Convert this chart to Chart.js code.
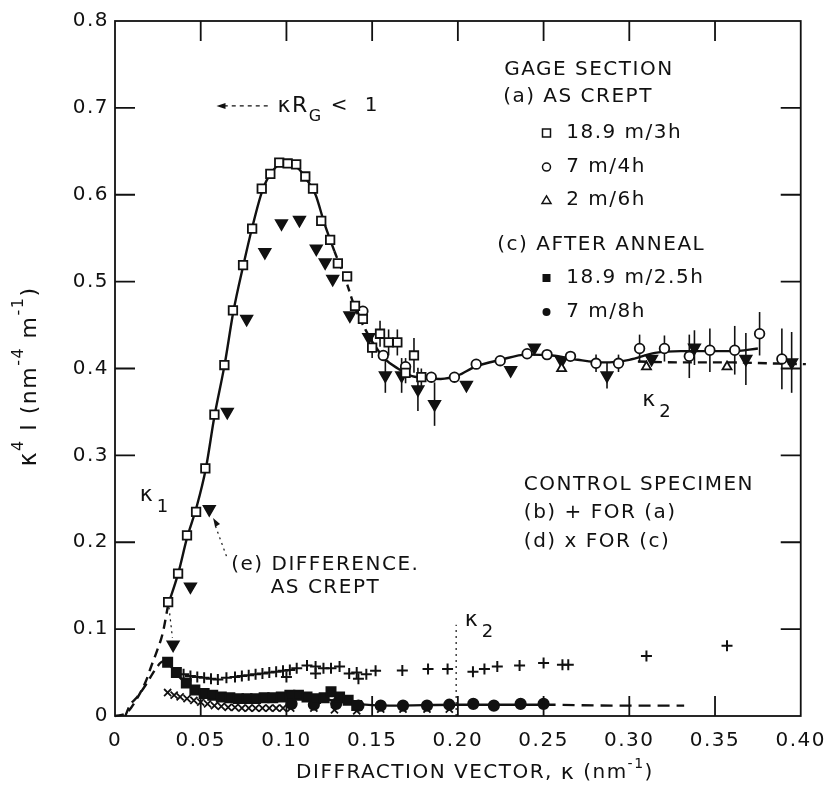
<!DOCTYPE html>
<html>
<head>
<meta charset="utf-8">
<title>SANS intensity vs diffraction vector</title>
<script src="https://cdn.jsdelivr.net/npm/chart.js@4.4.1/dist/chart.umd.min.js"></script>
<style>
  html, body { margin: 0; padding: 0; background: #fff; }
</style>
</head>
<body>
<canvas id="sansChart" width="836" height="791"></canvas>
<script>
// tick labels
const xTickLabels = ['0', '0.05', '0.10', '0.15', '0.20', '0.25', '0.30', '0.35', '0.40'];
const yTickLabels = ['0', '0.1', '0.2', '0.3', '0.4', '0.5', '0.6', '0.7', '0.8'];

// (a) as crept 18.9 m/3h - open squares
const sqK = [0.031, 0.0368, 0.042, 0.0473, 0.0527, 0.058, 0.0638, 0.0688, 0.0747, 0.080, 0.0856, 0.0906, 0.0958, 0.1007, 0.1057, 0.111, 0.1155, 0.1203, 0.1255, 0.130, 0.1354, 0.140, 0.1446, 0.150, 0.1546, 0.1596, 0.1647, 0.1695, 0.1744, 0.1787];
const sqV = [0.131, 0.164, 0.208, 0.235, 0.285, 0.347, 0.404, 0.467, 0.519, 0.561, 0.607, 0.624, 0.637, 0.636, 0.635, 0.621, 0.607, 0.570, 0.548, 0.521, 0.506, 0.472, 0.457, 0.424, 0.440, 0.430, 0.430, 0.395, 0.415, 0.390];
const sqErr = [0, 0, 0, 0, 0, 0, 0, 0, 0, 0, 0, 0, 0, 0, 0, 0, 0, 0, 0, 0, 0, 0, 0, 0.012, 0.015, 0.015, 0.015, 0.012, 0.02, 0.01];

// (a) 7 m/4h - open circles
const ciK = [0.1446, 0.1565, 0.1695, 0.1845, 0.198, 0.2107, 0.2247, 0.2404, 0.252, 0.2657, 0.2806, 0.2937, 0.306, 0.3205, 0.335, 0.347, 0.3615, 0.376, 0.389];
const ciV = [0.466, 0.415, 0.402, 0.390, 0.390, 0.405, 0.409, 0.417, 0.416, 0.414, 0.406, 0.406, 0.423, 0.423, 0.414, 0.421, 0.421, 0.440, 0.411];
const ciErr = [0, 0, 0.01, 0, 0, 0, 0, 0, 0, 0, 0.01, 0.01, 0.016, 0.015, 0.025, 0.025, 0.028, 0.025, 0.035];

// (a) 2 m/6h - open triangles
const trK = [0.2605, 0.310, 0.357];
const trV = [0.400, 0.402, 0.402];

// (e) difference, as crept - filled down triangles
const diffK = [0.0339, 0.044, 0.055, 0.0655, 0.0768, 0.0874, 0.0971, 0.1076, 0.1174, 0.1226, 0.127, 0.137, 0.148, 0.1577, 0.1672, 0.1767, 0.1864, 0.205, 0.2308, 0.2446, 0.2605, 0.287, 0.313, 0.338, 0.368, 0.3947];
const diffV = [0.082, 0.149, 0.238, 0.350, 0.457, 0.534, 0.567, 0.571, 0.538, 0.522, 0.503, 0.461, 0.436, 0.392, 0.392, 0.376, 0.359, 0.381, 0.398, 0.424, 0.409, 0.392, 0.411, 0.424, 0.411, 0.407];
const diffErr = [0, 0, 0, 0, 0, 0, 0, 0, 0, 0, 0, 0, 0, 0.02, 0.02, 0.025, 0.025, 0, 0, 0, 0, 0.015, 0, 0.02, 0.03, 0.035];

// (c) after anneal 18.9 m/2.5h - filled squares
const anK = [0.0307, 0.0358, 0.0416, 0.0466, 0.052, 0.057, 0.062, 0.067, 0.072, 0.077, 0.082, 0.087, 0.092, 0.097, 0.102, 0.107, 0.112, 0.117, 0.122, 0.126, 0.131, 0.136, 0.141];
const anV = [0.062, 0.050, 0.038, 0.030, 0.026, 0.024, 0.022, 0.021, 0.020, 0.020, 0.020, 0.021, 0.021, 0.022, 0.024, 0.024, 0.022, 0.020, 0.021, 0.028, 0.022, 0.018, 0.012];

// (c) 7 m/8h - filled circles
const fcK = [0.103, 0.116, 0.129, 0.142, 0.155, 0.168, 0.182, 0.195, 0.209, 0.221, 0.2366, 0.250];
const fcV = [0.014, 0.013, 0.014, 0.012, 0.012, 0.012, 0.012, 0.013, 0.014, 0.012, 0.014, 0.014];

// (b) control specimen for (a) - plus
const plK = [0.040, 0.044, 0.048, 0.052, 0.056, 0.060, 0.065, 0.070, 0.074, 0.078, 0.082, 0.086, 0.090, 0.094, 0.098, 0.100, 0.102, 0.106, 0.112, 0.117, 0.117, 0.1216, 0.126, 0.131, 0.1366, 0.141, 0.142, 0.1466, 0.152, 0.1676, 0.1826, 0.194, 0.2088, 0.2155, 0.223, 0.236, 0.250, 0.261, 0.2644, 0.310, 0.357];
const plV = [0.048, 0.046, 0.045, 0.044, 0.043, 0.042, 0.044, 0.045, 0.046, 0.047, 0.048, 0.049, 0.050, 0.051, 0.052, 0.045, 0.053, 0.055, 0.058, 0.057, 0.049, 0.055, 0.055, 0.057, 0.049, 0.050, 0.043, 0.048, 0.052, 0.0525, 0.054, 0.054, 0.051, 0.054, 0.057, 0.058, 0.061, 0.059, 0.059, 0.069, 0.081];

// (d) control specimen for (c) - x
const xrK = [0.0307, 0.0345, 0.038, 0.042, 0.046, 0.050, 0.054, 0.058, 0.062, 0.066, 0.070, 0.074, 0.078, 0.082, 0.086, 0.090, 0.094, 0.098, 0.1025, 0.116, 0.128, 0.141, 0.155, 0.168, 0.182, 0.195];
const xrV = [0.027, 0.024, 0.022, 0.020, 0.018, 0.016, 0.014, 0.012, 0.011, 0.010, 0.010, 0.009, 0.009, 0.009, 0.009, 0.009, 0.009, 0.009, 0.009, 0.009, 0.007, 0.006, 0.008, 0.008, 0.008, 0.008];

// drawn curves
const fitK = [0.031, 0.037, 0.042, 0.0475, 0.053, 0.058, 0.064, 0.069, 0.075, 0.080, 0.086, 0.091, 0.097, 0.102, 0.107, 0.112, 0.117, 0.122, 0.128, 0.134, 0.140, 0.146, 0.152, 0.158, 0.165, 0.172, 0.180, 0.190, 0.200, 0.210, 0.225, 0.240, 0.255, 0.270, 0.285, 0.300, 0.315, 0.330, 0.345, 0.360, 0.375];
const fitV = [0.128, 0.165, 0.205, 0.240, 0.285, 0.345, 0.405, 0.465, 0.520, 0.562, 0.605, 0.625, 0.635, 0.634, 0.630, 0.617, 0.600, 0.568, 0.535, 0.505, 0.470, 0.445, 0.425, 0.410, 0.400, 0.392, 0.389, 0.388, 0.392, 0.402, 0.410, 0.416, 0.415, 0.410, 0.407, 0.410, 0.418, 0.420, 0.420, 0.420, 0.423];
const upK = [0.0, 0.007, 0.0134, 0.018, 0.0211, 0.0245, 0.0278, 0.031];
const upV = [0.0, 0.004, 0.022, 0.040, 0.057, 0.075, 0.095, 0.128];
const lowK = [0.006, 0.0086, 0.013, 0.018, 0.023, 0.027, 0.031];
const lowV = [0.0, 0.012, 0.022, 0.036, 0.052, 0.062, 0.064];
const anFitK = [0.031, 0.036, 0.045, 0.060, 0.080, 0.100, 0.120, 0.140, 0.160, 0.200, 0.250, 0.290, 0.332];
const anFitV = [0.062, 0.048, 0.033, 0.024, 0.020, 0.022, 0.020, 0.014, 0.012, 0.013, 0.013, 0.012, 0.012];
const trFitK = [0.305, 0.330, 0.360, 0.380, 0.403];
const trFitV = [0.408, 0.407, 0.407, 0.406, 0.405];

const pts = (ks, vs) => ks.map((k, i) => ({ x: k, y: vs[i] }));

const ink = '#111';
const font = 'DejaVu Sans';
const spacing = '1.5px';

function markers(label, ks, vs, style, r, fill, extra) {
    return Object.assign({
        label: label,
        data: pts(ks, vs),
        pointStyle: style,
        pointRadius: r,
        pointBackgroundColor: fill,
        pointBorderColor: ink,
        pointBorderWidth: 1.8,
        showLine: false,
        clip: 10,
        order: 1
    }, extra || {});
}

function curve(label, ks, vs, dash, extra) {
    return Object.assign({
        label: label,
        data: pts(ks, vs),
        showLine: true,
        pointRadius: 0,
        borderColor: ink,
        borderWidth: 2.4,
        borderDash: dash,
        cubicInterpolationMode: 'monotone',
        clip: 10,
        order: 5
    }, extra || {});
}

// text in pieces (for super/subscripts), centred on (cx, cy)
function richText(ctx, pieces, cx, cy) {
    let total = 0;
    pieces.forEach(p => {
        ctx.font = p.size + 'px "' + font + '"';
        p.w = ctx.measureText(p.t).width;
        total += p.w;
    });
    let x = cx - total / 2;
    pieces.forEach(p => {
        ctx.font = p.size + 'px "' + font + '"';
        ctx.fillText(p.t, x, cy + (p.dy || 0));
        x += p.w;
    });
}

// letter spacing for all chart text
const spaced = {
    id: 'spaced',
    beforeDraw(chart) { chart.ctx.letterSpacing = spacing; }
};

// vertical error bars, drawn under the markers
const errorBars = {
    id: 'errorBars',
    beforeDatasetsDraw(chart) {
        const { ctx, scales: { x, y } } = chart;
        ctx.save();
        ctx.strokeStyle = ink;
        ctx.lineWidth = 1.6;
        chart.data.datasets.forEach(ds => {
            if (!ds.errs) return;
            ds.data.forEach((p, i) => {
                const e = ds.errs[i];
                if (!e) return;
                const px = x.getPixelForValue(p.x);
                ctx.beginPath();
                ctx.moveTo(px, y.getPixelForValue(p.y - e));
                ctx.lineTo(px, y.getPixelForValue(p.y + e));
                ctx.stroke();
            });
        });
        ctx.restore();
    }
};

// box frame with inward ticks on all four sides
const frameTicks = {
    id: 'frameTicks',
    afterDraw(chart) {
        const { ctx, chartArea: a, scales: { x, y } } = chart;
        const len = 20;
        ctx.save();
        ctx.strokeStyle = ink;
        ctx.lineWidth = 1.8;
        ctx.strokeRect(a.left, a.top, a.right - a.left, a.bottom - a.top);
        ctx.beginPath();
        x.ticks.slice(1, -1).forEach(t => {
            const px = x.getPixelForValue(t.value);
            ctx.moveTo(px, a.bottom); ctx.lineTo(px, a.bottom - len);
            ctx.moveTo(px, a.top); ctx.lineTo(px, a.top + len);
        });
        y.ticks.slice(1, -1).forEach(t => {
            const py = y.getPixelForValue(t.value);
            ctx.moveTo(a.left, py); ctx.lineTo(a.left + len, py);
            ctx.moveTo(a.right, py); ctx.lineTo(a.right - len, py);
        });
        ctx.stroke();
        ctx.restore();
    }
};

// axis titles
const axisTitles = {
    id: 'axisTitles',
    afterDraw(chart) {
        const { ctx, chartArea: a } = chart;
        ctx.save();
        ctx.fillStyle = ink;
        ctx.textBaseline = 'middle';
        ctx.textAlign = 'left';
        richText(ctx, [
            { t: 'DIFFRACTION VECTOR, ', size: 20 },
            { t: 'κ', size: 22 },
            { t: ' (nm', size: 20 },
            { t: '-1', size: 14, dy: -9 },
            { t: ')', size: 20 }
        ], a.left + 360, 773);
        ctx.translate(30, (a.top + a.bottom) / 2 + 8);
        ctx.rotate(-Math.PI / 2);
        richText(ctx, [
            { t: 'κ', size: 24 },
            { t: '4', size: 16, dy: -11 },
            { t: ' I (nm', size: 22 },
            { t: '-4', size: 16, dy: -11 },
            { t: ' m', size: 22 },
            { t: '-1', size: 16, dy: -11 },
            { t: ')', size: 22 }
        ], 0, 0);
        ctx.restore();
    }
};

// labels written on the plot, placed in data coordinates
const notes = [
    { t: 'GAGE SECTION', k: 0.2270, v: 0.7436 },
    { t: '(a) AS CREPT', k: 0.2264, v: 0.7125 },
    { t: '18.9 m/3h', k: 0.2632, v: 0.6711 },
    { t: '7 m/4h', k: 0.2632, v: 0.6319 },
    { t: '2 m/6h', k: 0.2632, v: 0.5940 },
    { t: '(c) AFTER ANNEAL', k: 0.2230, v: 0.5422 },
    { t: '18.9 m/2.5h', k: 0.2632, v: 0.5042 },
    { t: '7 m/8h', k: 0.2632, v: 0.4650 },
    { t: 'CONTROL SPECIMEN', k: 0.2385, v: 0.2659 },
    { t: '(b) + FOR (a)', k: 0.2385, v: 0.2337 },
    { t: '(d) x FOR (c)', k: 0.2385, v: 0.2003 },
    { t: '(e) DIFFERENCE.', k: 0.0678, v: 0.1738 },
    { t: 'AS CREPT', k: 0.0908, v: 0.1473 }
];
const kappas = [
    { sub: '1', k: 0.0144, v: 0.2544 },
    { sub: '2', k: 0.3075, v: 0.3637 },
    { sub: '2', k: 0.2040, v: 0.1105 }
];
const keySymbols = [
    { shape: 'rect', fill: false, v: 0.6711 },
    { shape: 'circle', fill: false, v: 0.6319 },
    { shape: 'triangle', fill: false, v: 0.5940 },
    { shape: 'rect', fill: true, v: 0.5042 },
    { shape: 'circle', fill: true, v: 0.4650 }
];
const keyK = 0.2517;

const annotations = {
    id: 'annotations',
    afterDraw(chart) {
        const { ctx, scales: { x, y } } = chart;
        const X = k => x.getPixelForValue(k);
        const Y = v => y.getPixelForValue(v);
        ctx.save();
        ctx.fillStyle = ink;
        ctx.strokeStyle = ink;
        ctx.textBaseline = 'middle';
        ctx.textAlign = 'left';
        ctx.font = '20px "' + font + '"';
        notes.forEach(n => ctx.fillText(n.t, X(n.k), Y(n.v)));

        kappas.forEach(n => {
            ctx.font = '22px "' + font + '"';
            ctx.fillText('κ', X(n.k), Y(n.v));
            ctx.font = '18px "' + font + '"';
            ctx.fillText(n.sub, X(n.k) + 17, Y(n.v) + 12);
        });

        // kappa R_G < 1 with arrow
        const kx = X(0.0948), ky = Y(0.7022);
        ctx.font = '22px "' + font + '"';
        ctx.fillText('κR', kx, ky);
        const w = ctx.measureText('κR').width;
        ctx.font = '16px "' + font + '"';
        ctx.fillText('G', kx + w, ky + 11);
        ctx.font = '20px "' + font + '"';
        ctx.fillText('<  1', kx + w + 22, ky);
        ctx.lineWidth = 1.3;
        ctx.setLineDash([4, 4]);
        ctx.beginPath();
        ctx.moveTo(X(0.0891), ky); ctx.lineTo(X(0.0610), ky);
        ctx.stroke();
        ctx.setLineDash([]);
        ctx.beginPath();
        ctx.moveTo(X(0.0592), ky); ctx.lineTo(X(0.0592) + 9, ky - 3); ctx.lineTo(X(0.0592) + 9, ky + 3);
        ctx.closePath(); ctx.fill();

        // dotted leaders
        ctx.lineWidth = 1.2;
        ctx.setLineDash([2, 4]);
        ctx.beginPath();
        ctx.moveTo(X(0.065), Y(0.184)); ctx.lineTo(X(0.058), Y(0.222));
        ctx.moveTo(X(0.199), Y(0.0)); ctx.lineTo(X(0.199), Y(0.105));
        ctx.moveTo(X(0.0315), Y(0.125)); ctx.lineTo(X(0.0335), Y(0.09));
        ctx.stroke();
        ctx.setLineDash([]);
        ctx.beginPath();
        ctx.moveTo(X(0.0572), Y(0.228)); ctx.lineTo(X(0.0572) + 2, Y(0.228) + 9); ctx.lineTo(X(0.0572) + 7, Y(0.228) + 6);
        ctx.closePath(); ctx.fill();

        // key symbols
        ctx.lineWidth = 1.5;
        keySymbols.forEach(s => {
            const cx = X(keyK), cy = Y(s.v);
            ctx.beginPath();
            if (s.shape === 'rect') ctx.rect(cx - 4, cy - 4, 8, 8);
            else if (s.shape === 'circle') ctx.arc(cx, cy, 4, 0, Math.PI * 2);
            else { ctx.moveTo(cx, cy - 4); ctx.lineTo(cx + 4.5, cy + 3.5); ctx.lineTo(cx - 4.5, cy + 3.5); ctx.closePath(); }
            if (s.fill) ctx.fill(); else ctx.stroke();
        });
        ctx.restore();
    }
};

const ctx = document.getElementById('sansChart').getContext('2d');
new Chart(ctx, {
    type: 'scatter',
    data: {
        datasets: [
            markers('18.9 m/3h', sqK, sqV, 'rect', 6, '#fff', { errs: sqErr }),
            markers('7 m/4h', ciK, ciV, 'circle', 4.8, '#fff', { errs: ciErr }),
            markers('2 m/6h', trK, trV, 'triangle', 5.2, '#fff'),
            markers('difference', diffK, diffV, 'triangle', 6.5, ink, { errs: diffErr, rotation: 180, order: 2 }),
            markers('18.9 m/2.5h', anK, anV, 'rect', 6.5, ink),
            markers('7 m/8h', fcK, fcV, 'circle', 5.2, ink),
            markers('control (a)', plK, plV, 'cross', 5.5, ink, { pointBorderWidth: 2 }),
            markers('control (c)', xrK, xrV, 'crossRot', 5, ink, { pointBorderWidth: 1.8 }),
            curve('fit', fitK, fitV, [], {
                segment: {
                    borderDash: c => (c.p0.parsed.x >= 0.124 && c.p1.parsed.x <= 0.153) ? [7, 5] : undefined
                }
            }),
            curve('start', upK, upV, [9, 6]),
            curve('start annealed', lowK, lowV, [9, 6]),
            curve('anneal fit', anFitK, anFitV, [], {
                segment: {
                    borderDash: c => c.p0.parsed.x >= 0.25 ? [12, 7] : undefined
                }
            }),
            curve('2 m/6h fit', trFitK, trFitV, [9, 6])
        ]
    },
    options: {
        responsive: false,
        animation: false,
        events: [],
        layout: { padding: { top: 21, right: 25, left: 0, bottom: 0 } },
        plugins: { legend: { display: false }, tooltip: { enabled: false } },
        scales: {
            x: {
                type: 'linear',
                min: 0,
                max: 0.4,
                afterFit: s => { s.height = 75; },
                grid: { display: false, drawTicks: false },
                border: { display: false },
                ticks: {
                    stepSize: 0.05,
                    padding: 13,
                    color: ink,
                    font: { family: font, size: 20 },
                    callback: (v, i) => xTickLabels[i]
                }
            },
            y: {
                type: 'linear',
                min: 0,
                max: 0.8,
                afterFit: s => { s.width = 115; },
                grid: { display: false, drawTicks: false },
                border: { display: false },
                ticks: {
                    stepSize: 0.1,
                    padding: 6,
                    color: ink,
                    font: { family: font, size: 20 },
                    callback: (v, i) => yTickLabels[i]
                }
            }
        }
    },
    plugins: [spaced, errorBars, frameTicks, axisTitles, annotations]
});
</script>
</body>
</html>
